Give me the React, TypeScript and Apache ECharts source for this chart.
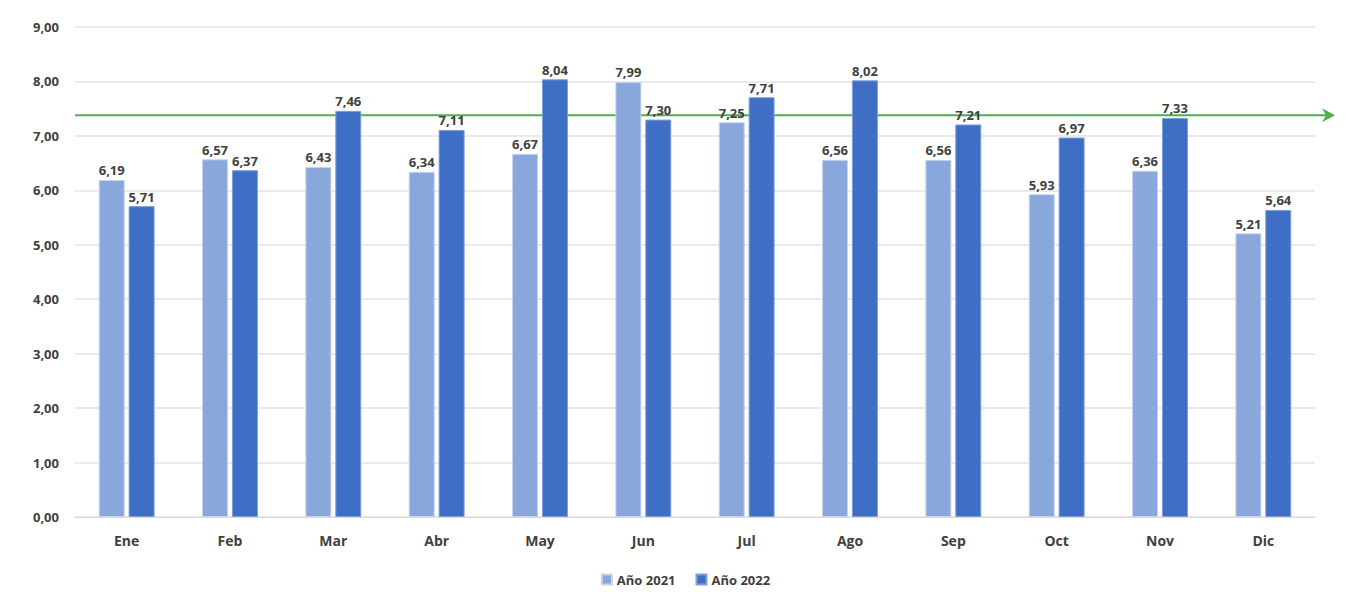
import React, { useEffect, useRef } from "react";
import * as echarts from "echarts";

const months = ["Ene", "Feb", "Mar", "Abr", "May", "Jun", "Jul", "Ago", "Sep", "Oct", "Nov", "Dic"];
const values2021 = [6.19, 6.57, 6.43, 6.34, 6.67, 7.99, 7.25, 6.56, 6.56, 5.93, 6.36, 5.21];
const values2022 = [5.71, 6.37, 7.46, 7.11, 8.04, 7.30, 7.71, 8.02, 7.21, 6.97, 7.33, 5.64];
const referenceLevel = 7.38;
const seriesNames = ["Año 2021", "Año 2022"];

const fmt = (v: number) => v.toFixed(2).replace(".", ",");
const FONT = "'Open Sans', 'Noto Sans', sans-serif";

export default function App() {
  const ref = useRef<HTMLDivElement>(null);
  useEffect(() => {
    if (!ref.current) return;
    const chart = echarts.init(ref.current, null, { renderer: "svg" });
    const label = {
      show: true,
      position: "top" as const,
      distance: 3,
      color: "#404040",
      fontFamily: FONT,
      fontWeight: "bold" as const,
      fontSize: 13,
      formatter: (p: any) => fmt(p.value),
    };
    chart.setOption({
      animation: false,
      backgroundColor: "#ffffff",
      grid: { left: 75, right: 56, top: 27, bottom: 78, containLabel: false },
      legend: {
        bottom: 4,
        left: "center",
        itemWidth: 10,
        itemHeight: 10,
        itemGap: 20,
        icon: "rect",
        textStyle: { color: "#404040", fontFamily: FONT, fontSize: 13, fontWeight: "bold" },
        data: seriesNames,
      },
      xAxis: {
        type: "category",
        data: months,
        axisLine: { show: true, lineStyle: { color: "#d9d9d9", width: 1 } },
        axisTick: { show: false },
        axisLabel: {
          color: "#404040",
          fontFamily: FONT,
          fontSize: 14,
          fontWeight: "bold",
          margin: 16,
        },
      },
      yAxis: {
        type: "value",
        min: 0,
        max: 9,
        interval: 1,
        axisLine: { show: false },
        axisTick: { show: false },
        splitLine: { lineStyle: { color: "#e3e3e3", width: 1.5 } },
        axisLabel: {
          color: "#404040",
          fontFamily: FONT,
          fontSize: 13,
          fontWeight: "bold",
          margin: 16,
          formatter: (v: number) => fmt(v),
        },
      },
      series: [
        {
          name: seriesNames[0],
          type: "bar",
          data: values2021,
          barWidth: 26,
          barGap: "15%",
          itemStyle: { color: "#8aa7db", borderColor: "#c5d3ee", borderWidth: 1 },
          label,
        },
        {
          name: seriesNames[1],
          type: "bar",
          data: values2022,
          barWidth: 26,
          itemStyle: { color: "#3f6fc4", borderColor: "#7f9fd8", borderWidth: 1 },
          label,
        },
      ],
    });
    const yPx = chart.convertToPixel({ yAxisIndex: 0 }, referenceLevel) as number;
    const x0 = 75;
    const x1 = 1335;
    chart.setOption({
      graphic: [
        {
          type: "rect",
          shape: { x: 635, y: 0, width: 736, height: 7 },
          style: { fill: "#e3f1fa" },
          silent: true,
        },
        {
          type: "line",
          shape: { x1: x0, y1: yPx, x2: x1 - 4, y2: yPx },
          style: { stroke: "#4caf50", lineWidth: 2 },
          silent: true,
        },
        {
          type: "polygon",
          shape: { points: [[x1 - 13, yPx - 7], [x1, yPx], [x1 - 13, yPx + 7], [x1 - 9, yPx]] },
          style: { fill: "#4caf50" },
          silent: true,
        },
      ],
    });
    return () => chart.dispose();
  }, []);
  return <div ref={ref} style={{ width: 1371, height: 595, margin: -8 }} />;
}
